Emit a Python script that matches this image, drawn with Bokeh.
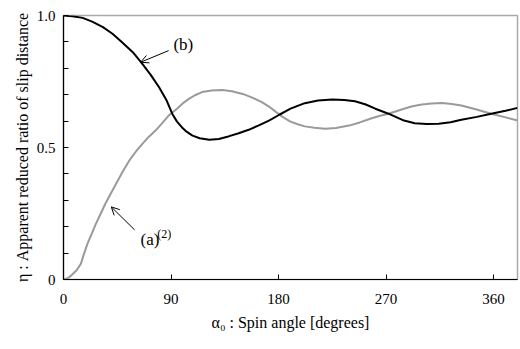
from bokeh.plotting import figure
from bokeh.models import Range1d, FixedTicker, Arrow, OpenHead
from bokeh.core.properties import value
from bokeh.embed import file_html
from bokeh.resources import INLINE

# curve (b): black
b_angle = [0, 7.5, 16, 24, 33, 41, 49, 58, 66, 73, 80, 86, 91, 95, 99, 103, 108, 114,
           122, 130, 138, 146, 155, 163, 172, 181, 190, 202, 213, 225, 235, 244, 253,
           261, 272, 285, 294, 304, 314, 324, 333, 346, 358, 370, 380]
b_eta = [1.0, 0.997, 0.991, 0.977, 0.956, 0.931, 0.899, 0.861, 0.817, 0.775, 0.728,
         0.681, 0.628, 0.598, 0.577, 0.560, 0.545, 0.535, 0.529, 0.532, 0.542, 0.553,
         0.567, 0.583, 0.602, 0.625, 0.647, 0.668, 0.678, 0.682, 0.680, 0.675, 0.663,
         0.647, 0.628, 0.602, 0.592, 0.589, 0.590, 0.596, 0.605, 0.616, 0.628, 0.639,
         0.650]

# curve (a): gray
a_angle = [0, 4, 7.5, 11, 14.5, 17, 20, 23.5, 27, 31, 35, 39.5, 44, 49.5, 55, 60.5, 66,
           71.5, 77, 83, 88, 95, 100, 105, 110, 116, 124, 133, 141, 150, 158, 166, 172,
           178, 184, 190, 196, 202, 210, 219, 228, 239, 248, 258, 265, 272, 285, 292,
           300, 308, 317, 325, 333, 345, 358, 370, 380]
a_eta = [0, 0.006, 0.02, 0.035, 0.059, 0.095, 0.135, 0.172, 0.21, 0.248, 0.287, 0.325,
         0.363, 0.408, 0.45, 0.484, 0.514, 0.541, 0.564, 0.594, 0.621, 0.647, 0.668,
         0.684, 0.698, 0.71, 0.716, 0.718, 0.713, 0.703, 0.689, 0.672, 0.655, 0.634,
         0.614, 0.598, 0.588, 0.58, 0.575, 0.571, 0.574, 0.583, 0.595, 0.611, 0.620,
         0.628, 0.647, 0.656, 0.663, 0.667, 0.669, 0.665, 0.659, 0.645, 0.628, 0.614,
         0.602]

x_ticks = [0, 90, 180, 270, 360]
y_ticks = [0, 0.1, 0.2, 0.3, 0.4, 0.5, 0.6, 0.7, 0.8, 0.9, 1.0]
y_labels = {0: "0", 0.5: "0.5", 1.0: "1.0"}

FONT = "Liberation Serif"

p = figure(width=520, height=349, output_backend="svg", toolbar_location=None,
           x_range=Range1d(0, 380), y_range=Range1d(0, 1.0),
           min_border_left=63, min_border_right=3, min_border_top=15,
           min_border_bottom=70)
p.grid.visible = False
p.background_fill_color = "white"
p.border_fill_color = "white"
p.outline_line_color = "#aaaaaa"
p.outline_line_width = 1.5

p.xaxis.major_label_text_font = FONT
p.yaxis.major_label_text_font = FONT
p.xaxis.axis_label_text_font = FONT
p.yaxis.axis_label_text_font = FONT
p.xaxis.major_label_text_font_size = "15px"
p.yaxis.major_label_text_font_size = "15px"
p.xaxis.axis_label_text_font_size = "16px"
p.yaxis.axis_label_text_font_size = "16px"
p.xaxis.axis_label_text_font_style = "normal"
p.yaxis.axis_label_text_font_style = "normal"
p.xaxis.major_label_text_color = "black"
p.yaxis.major_label_text_color = "black"
p.xaxis.axis_label_text_color = "black"
p.yaxis.axis_label_text_color = "black"
for ax in (p.xaxis[0], p.yaxis[0]):
    ax.axis_line_color = "black"
    ax.axis_line_width = 1.2
    ax.major_tick_in = 5
    ax.major_tick_out = 0
    ax.major_tick_line_color = "black"
    ax.minor_tick_line_color = None

p.xaxis.ticker = FixedTicker(ticks=x_ticks)
p.xaxis.major_label_standoff = 14
p.xaxis.axis_label = "α₀ : Spin angle [degrees]"
p.xaxis.axis_label_standoff = 7

p.yaxis.ticker = FixedTicker(ticks=y_ticks)
p.yaxis.major_label_overrides = {t: y_labels.get(t, "") for t in y_ticks}
p.yaxis.major_label_standoff = 8
p.yaxis.axis_label = "η : Apparent reduced ratio of slip distance"
p.yaxis.axis_label_standoff = 3

p.line(a_angle, a_eta, line_color="#9a9a9a", line_width=2)
p.line(b_angle, b_eta, line_color="black", line_width=2)

# annotations
p.add_layout(Arrow(end=OpenHead(size=8, line_color="black", line_width=1),
                   x_start=88, y_start=0.867, x_end=64.5, y_end=0.823,
                   line_color="black", line_width=1))
p.add_layout(Arrow(end=OpenHead(size=8, line_color="black", line_width=1),
                   x_start=59.5, y_start=0.188, x_end=40, y_end=0.275,
                   line_color="black", line_width=1))

p.text(x=[92], y=[0.89], text=["(b)"], text_font=value(FONT),
       text_font_size="17px", text_baseline="middle", text_align="left",
       text_color="black")
p.text(x=[64.5], y=[0.153], text=["(a)"], text_font=value(FONT),
       text_font_size="17px", text_baseline="middle", text_align="left",
       text_color="black")
p.text(x=[78.4], y=[0.172], text=["(2)"], text_font=value(FONT),
       text_font_size="12px", text_baseline="middle", text_align="left",
       text_color="black")

open("out.html", "w").write(file_html(p, INLINE))
